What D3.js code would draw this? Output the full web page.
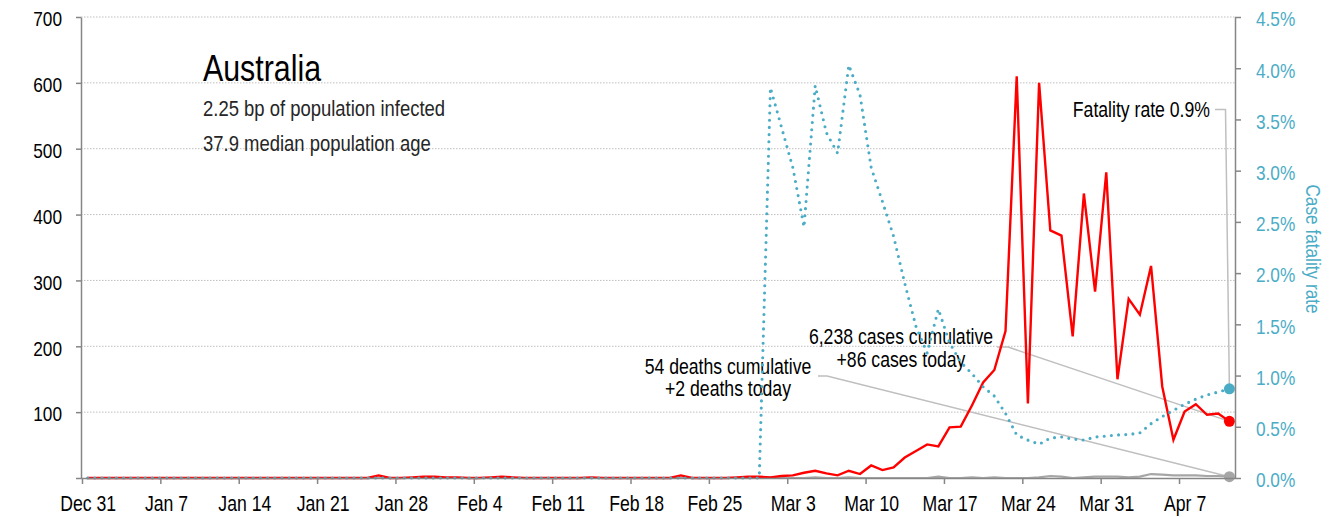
<!DOCTYPE html>
<html>
<head>
<meta charset="utf-8">
<script src="https://cdn.jsdelivr.net/npm/d3@7"></script>
<style>
  body { margin: 0; background: #fff; }
  svg { display: block; font-family: "Liberation Sans", Arial, sans-serif; }
</style>
</head>
<body>
<svg id="svgContainer"></svg>
<script>
// Daily series, one value per day from Dec 31 2019 to Apr 11 2020
const firstDay = "2019-12-31";
const lastDay = "2020-04-11";

const dailyCases = [
  0,                                                         // Dec 31
  0,0,0,0,0,0,0,0,0,0,0,0,0,0,0,0,0,0,0,0,0,0,0,0,0,4,0,0,1,2,2, // Jan
  1,1,0,0,1,2,1,0,0,0,0,0,0,1,0,0,0,0,0,0,0,4,0,0,0,0,1,2,2,   // Feb
  1,3,4,8,11,7,4,11,6,19,12,16,31,41,51,48,77,78,110,145,164,223,
  610,113,600,376,368,215,432,283,464,                       // Mar
  150,272,248,322,139,58,101,112,96,98,86                    // Apr
];

const dailyDeaths = [
  0,
  0,0,0,0,0,0,0,0,0,0,0,0,0,0,0,0,0,0,0,0,0,0,0,0,0,0,0,0,0,0,0,
  0,0,0,0,0,0,0,0,0,0,0,0,0,0,0,0,0,0,0,0,0,0,0,0,0,0,0,0,0,
  1,0,0,0,1,0,0,1,0,0,0,0,0,0,0,2,0,0,1,0,1,0,0,0,1,3,2,0,1,2,2,
  2,1,2,6,5,4,4,4,3,3,2
];

// case fatality rate, percent
const fatalityRate = [
  0,
  0,0,0,0,0,0,0,0,0,0,0,0,0,0,0,0,0,0,0,0,0,0,0,0,0,0,0,0,0,0,0,
  0,0,0,0,0,0,0,0,0,0,0,0,0,0,0,0,0,0,0,0,0,0,0,0,0,0,0,0,0,
  3.81,3.42,3.03,2.45,3.83,3.37,3.17,4.03,3.74,3.03,2.70,2.36,1.90,1.48,1.22,1.65,
  1.32,1.13,1.02,0.89,0.80,0.63,0.42,0.37,0.33,0.39,0.40,0.38,0.37,0.40,0.41,
  0.42,0.425,0.44,0.53,0.60,0.66,0.72,0.77,0.81,0.84,0.87
];

const leftTicks = [0, 100, 200, 300, 400, 500, 600, 700];
const rightTicks = [0, 0.5, 1, 1.5, 2, 2.5, 3, 3.5, 4, 4.5];

const titleText = "Australia";
const infoLines = ["2.25 bp of population infected", "37.9 median population age"];
const caseNote = ["6,238 cases cumulative", "+86 cases today"];
const deathNote = ["54 deaths cumulative", "+2 deaths today"];
const rateNote = "Fatality rate 0.9%";

// Set up the SVG container
const svgWidth = 1337;
const svgHeight = 517;
const svg = d3.select("#svgContainer")
  .attr("width", svgWidth)
  .attr("height", svgHeight);

const plotLeft = 82, plotRight = 1235, plotTop = 17, plotBottom = 478;
const blue = "#4bacc6";

const parse = d3.utcParse("%Y-%m-%d");
const start = parse(firstDay);
const end = d3.utcDay.offset(parse(lastDay), 1);
const days = d3.utcDay.range(start, end);

const x = d3.scaleUtc().domain([start, end]).range([plotLeft, plotRight]);
const yLeft = d3.scaleLinear().domain([0, 700]).range([plotBottom, plotTop]);
const yRight = d3.scaleLinear().domain([0, 4.5]).range([plotBottom, plotTop]);
const halfDay = (x(d3.utcDay.offset(start, 1)) - x(start)) / 2;
const xMid = i => x(days[i]) + halfDay;

// gridlines
svg.append("g")
  .selectAll("line")
  .data(leftTicks.filter(d => d > 0))
  .enter()
  .append("line")
  .attr("x1", plotLeft - 1)
  .attr("x2", plotRight)
  .attr("y1", d => yLeft(d))
  .attr("y2", d => yLeft(d))
  .attr("stroke", "#bfbfbf")
  .attr("stroke-width", 1)
  .attr("stroke-dasharray", "1.5,1.5");

// title block
svg.append("text")
  .attr("x", 203).attr("y", 81)
  .attr("font-size", 37)
  .attr("fill", "#000")
  .text(titleText);

svg.selectAll(".info")
  .data(infoLines)
  .enter()
  .append("text")
  .attr("class", "info")
  .attr("x", 203)
  .attr("y", (d, i) => 116 + i * 35)
  .attr("font-size", 22.5)
  .attr("fill", "#262626")
  .text(d => d);

// annotations
function note(lines, cx, y0, lineGap) {
  svg.append("g")
    .selectAll("text")
    .data(lines)
    .enter()
    .append("text")
    .attr("x", cx)
    .attr("y", (d, i) => y0 + i * lineGap)
    .attr("text-anchor", "middle")
    .attr("font-size", 21.5)
    .attr("fill", "#000")
    .text(d => d);
}
note(caseNote, 901, 344, 23);
note(deathNote, 728, 374, 22);

svg.append("text")
  .attr("x", 1210).attr("y", 117)
  .attr("text-anchor", "end")
  .attr("font-size", 21.5)
  .attr("fill", "#000")
  .text(rateNote);

// leader lines to the last points
const last = days.length - 1;
const leader = d => svg.append("path")
  .attr("d", d)
  .attr("fill", "none")
  .attr("stroke", "#bfbfbf")
  .attr("stroke-width", 1.5);

leader(`M1215,109.5 H1225.5 L${xMid(last)},${yRight(fatalityRate[last])}`);
leader(`M997,347 H1008 L${xMid(last)},${yLeft(dailyCases[last])}`);
leader(`M818,376 H827 L${xMid(last)},${yLeft(dailyDeaths[last])}`);

// series
const deathLine = d3.line().x((d, i) => xMid(i)).y(d => yLeft(d));
const caseLine = d3.line().x((d, i) => xMid(i)).y(d => yLeft(d));
const rateLine = d3.line().x((d, i) => xMid(i)).y(d => yRight(d));

svg.append("path")
  .datum(dailyDeaths)
  .attr("d", deathLine)
  .attr("fill", "none")
  .attr("stroke", "#a6a6a6")
  .attr("stroke-width", 2.2);

svg.append("path")
  .datum(dailyCases)
  .attr("d", caseLine)
  .attr("fill", "none")
  .attr("stroke", "#ff0000")
  .attr("stroke-width", 2.4);

svg.append("path")
  .datum(fatalityRate)
  .attr("d", rateLine)
  .attr("fill", "none")
  .attr("stroke", blue)
  .attr("stroke-width", 3.1)
  .attr("stroke-linecap", "round")
  .attr("stroke-dasharray", "0,7.2");

// end markers
const markers = [
  { v: yRight(fatalityRate[last]), c: blue },
  { v: yLeft(dailyCases[last]), c: "#ff0000" },
  { v: yLeft(dailyDeaths[last]), c: "#a6a6a6" }
];
svg.selectAll(".endpoint")
  .data(markers)
  .enter()
  .append("circle")
  .attr("class", "endpoint")
  .attr("cx", xMid(last))
  .attr("cy", d => d.v)
  .attr("r", 5.5)
  .attr("fill", d => d.c);

// axes
const axisColor = "#868686";

const xAxis = svg.append("g")
  .attr("transform", `translate(0,${plotBottom})`)
  .call(d3.axisBottom(x)
    .tickValues(d3.utcDay.range(start, end, 7))
    .tickFormat(d3.utcFormat("%b %-d"))
    .tickSize(6)
    .tickSizeOuter(0));
xAxis.select(".domain").attr("stroke", axisColor).attr("stroke-width", 1.5)
  .attr("d", `M${plotLeft - 1},0.5H${plotRight}`);
xAxis.selectAll(".tick line").attr("stroke", axisColor).attr("stroke-width", 1.5);
xAxis.selectAll(".tick text")
  .attr("x", halfDay)
  .attr("y", 33)
  .attr("dy", 0)
  .attr("font-size", 21.5)
  .attr("font-family", null)
  .attr("fill", "#000");

const leftAxis = svg.append("g")
  .attr("transform", `translate(${plotLeft - 1},0)`)
  .call(d3.axisLeft(yLeft)
    .tickValues(leftTicks)
    .tickFormat(d => d === 0 ? "" : d)
    .tickSize(5)
    .tickPadding(14)
    .tickSizeOuter(0));
leftAxis.select(".domain").attr("stroke", axisColor).attr("stroke-width", 1.5);
leftAxis.selectAll(".tick line").attr("stroke", axisColor).attr("stroke-width", 1.5);
leftAxis.selectAll(".tick text")
  .attr("dy", "0.42em")
  .attr("font-size", 21)
  .attr("font-family", null)
  .attr("fill", "#000");

const rightAxis = svg.append("g")
  .attr("transform", `translate(${plotRight},0)`)
  .call(d3.axisRight(yRight)
    .tickValues(rightTicks)
    .tickFormat(d => d.toFixed(1) + "%")
    .tickSize(6)
    .tickPadding(15)
    .tickSizeOuter(0));
rightAxis.select(".domain").attr("stroke", axisColor).attr("stroke-width", 1.5);
rightAxis.selectAll(".tick line").attr("stroke", axisColor).attr("stroke-width", 1.5);
rightAxis.selectAll(".tick text")
  .attr("dy", "0.42em")
  .attr("font-size", 21)
  .attr("font-family", null)
  .attr("fill", blue);

svg.append("text")
  .attr("transform", "translate(1306,249) rotate(90)")
  .attr("text-anchor", "middle")
  .attr("font-size", 21)
  .attr("fill", blue)
  .text("Case fatality rate");

// no narrow font installed: squeeze every label to a condensed width
svg.selectAll("text").each(function () {
  const w = this.getComputedTextLength();
  if (w > 0) {
    d3.select(this)
      .attr("textLength", w * 0.82)
      .attr("lengthAdjust", "spacingAndGlyphs");
  }
});
</script>
</body>
</html>
